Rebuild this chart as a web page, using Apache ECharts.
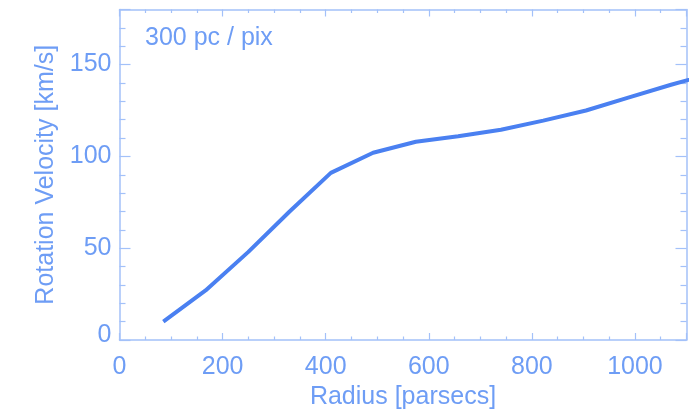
<!DOCTYPE html>
<html><head><meta charset="utf-8">
<script src="https://cdn.jsdelivr.net/npm/echarts@6/dist/echarts.min.js"></script>
<style>html,body{margin:0;padding:0;background:#fff}#c{width:689px;height:409px}</style>
</head><body><div id="c"></div>
<script>
const radius = [85, 167, 250, 330, 410, 492, 575, 657, 740, 822, 905, 987, 1070, 1152];
const velocity = [10, 27, 48, 70, 91, 102, 108, 111, 114.5, 119.5, 125, 132, 139, 145.5];
const xTickLabels = [0, 200, 400, 600, 800, 1000];
const yTickLabels = [0, 50, 100, 150];
const annotation = '300 pc / pix';
const xName = 'Radius [parsecs]';
const yName = 'Rotation Velocity [km/s]';

const textColor = '#6e9df5';
const axisColor = '#a3c1f9';
const lineColor = '#4a80f1';
const FONT = 'Liberation Sans';
const FS = 25;

const chart = echarts.init(document.getElementById('c'), null, {renderer: 'canvas'});
const seriesData = radius.map((r, i) => [r, velocity[i]]);

function xAx(pos, labels) {
  return {
    type: 'value', position: pos, min: 0, max: 1100, interval: 200,
    axisLine: {show: true, onZero: false, lineStyle: {color: axisColor, width: 1.5}},
    axisTick: {show: true, inside: true, length: 7, lineStyle: {color: axisColor, width: 1.2}},
    minorTick: {show: true, splitNumber: 4, length: 3.5, lineStyle: {color: axisColor, width: 1.2}},
    splitLine: {show: false},
    axisLabel: {show: labels, margin: 15, fontSize: FS, fontFamily: FONT, color: textColor,
      showMaxLabel: false,
      formatter: v => xTickLabels.includes(v) ? String(v) : ''},
    name: labels ? xName : '', nameLocation: 'middle', nameGap: 39,
    nameTextStyle: {fontSize: FS, fontFamily: FONT, color: textColor}
  };
}
function yAx(pos, labels) {
  return {
    type: 'value', position: pos, min: 0, max: 180, interval: 50,
    axisLine: {show: true, onZero: false, lineStyle: {color: axisColor, width: 1.5}},
    axisTick: {show: true, inside: true, length: 11, lineStyle: {color: axisColor, width: 1.2}},
    minorTick: {show: true, splitNumber: 5, length: 6, lineStyle: {color: axisColor, width: 1.2}},
    splitLine: {show: false},
    axisLabel: {show: labels, margin: 8, fontSize: FS, fontFamily: FONT, color: textColor,
      showMaxLabel: false,
      formatter: v => yTickLabels.includes(v) ? (v === 0 ? '{z|0}' : String(v)) : '',
      rich: {z: {fontSize: FS, fontFamily: FONT, color: textColor, padding: [0, 0, 10, 0]}}},
    name: labels ? yName : '', nameLocation: 'middle', nameGap: 61, nameRotate: 90,
    nameTextStyle: {fontSize: FS, fontFamily: FONT, color: textColor}
  };
}

chart.setOption({
  animation: false,
  backgroundColor: '#ffffff',
  grid: {left: 119.5, right: 2.5, top: 9.5, bottom: 69, containLabel: false, outerBoundsMode: 'none'},
  xAxis: [xAx('bottom', true), xAx('top', false)],
  yAxis: [yAx('left', true), yAx('right', false)],
  graphic: [{
    type: 'text', left: 145, top: 26,
    style: {text: annotation, fontSize: FS, fontFamily: FONT, fill: textColor}
  }],
  series: [{
    type: 'line', xAxisIndex: 0, yAxisIndex: 0, data: seriesData,
    showSymbol: false, clip: true,
    lineStyle: {color: lineColor, width: 4}
  }]
});
</script></body></html>
